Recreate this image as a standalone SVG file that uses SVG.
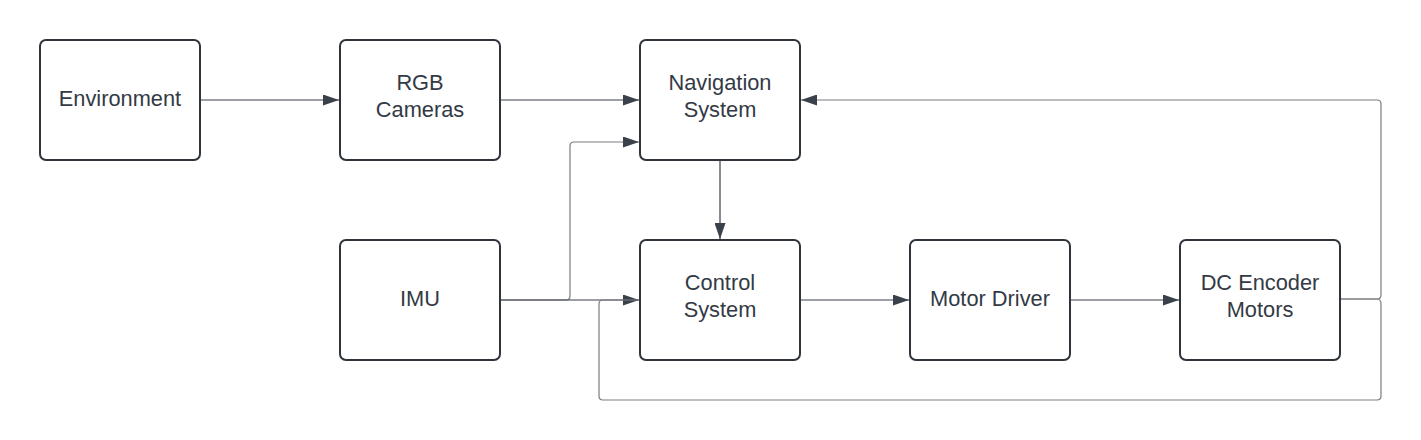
<svg xmlns="http://www.w3.org/2000/svg" width="1421" height="440" viewBox="0 0 1421 440">
<defs>
<style>
.box{fill:#fff;stroke:#2f343b;stroke-width:2}
.t{font-family:"Liberation Sans",Arial,sans-serif;font-size:21.8px;fill:#333a45;text-anchor:middle}
.c{fill:none;stroke:#3a414a;stroke-width:1.2}
.g{fill:none;stroke:#7a7c80;stroke-width:1.2}
</style>
<marker id="a" viewBox="0 0 16 11" refX="16" refY="5.5" markerWidth="16" markerHeight="11" markerUnits="userSpaceOnUse" orient="auto">
<path d="M0,0 L16,5.5 L0,11 Z" fill="#3a414a"/>
</marker>
</defs>
<rect width="1421" height="440" fill="#fff"/>
<g id="connectors">
<path class="c" d="M200,100 H339" marker-end="url(#a)"/>
<path class="c" d="M500,100 H639" marker-end="url(#a)"/>
<path class="g" d="M500,300 H566 Q570,300 570,296 V146 Q570,142 574,142 H639" marker-end="url(#a)"/>
<path class="c" d="M500,300 H639" marker-end="url(#a)"/>
<path class="c" d="M720,160 V239" marker-end="url(#a)"/>
<path class="c" d="M800,300 H909" marker-end="url(#a)"/>
<path class="c" d="M1070,300 H1179" marker-end="url(#a)"/>
<path class="g" d="M1340,299 H1377 Q1381,299 1381,295 V104 Q1381,100 1377,100 H801" marker-end="url(#a)"/>
<path class="g" d="M1340,299 H1377 Q1381,299 1381,304 V396 Q1381,400 1377,400 H603 Q599,400 599,396 V304 Q599,300 603,300 H639"/>
</g>
<g id="environment"><rect class="box" x="40" y="40" width="160" height="120" rx="6"/><text class="t" x="120" y="106">Environment</text></g>
<g id="rgb"><rect class="box" x="340" y="40" width="160" height="120" rx="6"/><text class="t" x="420" y="90">RGB</text><text class="t" x="420" y="117">Cameras</text></g>
<g id="nav"><rect class="box" x="640" y="40" width="160" height="120" rx="6"/><text class="t" x="720" y="90">Navigation</text><text class="t" x="720" y="117">System</text></g>
<g id="imu"><rect class="box" x="340" y="240" width="160" height="120" rx="6"/><text class="t" x="420" y="306">IMU</text></g>
<g id="control"><rect class="box" x="640" y="240" width="160" height="120" rx="6"/><text class="t" x="720" y="290">Control</text><text class="t" x="720" y="317">System</text></g>
<g id="motordriver"><rect class="box" x="910" y="240" width="160" height="120" rx="6"/><text class="t" x="990" y="306">Motor Driver</text></g>
<g id="dcmotors"><rect class="box" x="1180" y="240" width="160" height="120" rx="6"/><text class="t" x="1260" y="290">DC Encoder</text><text class="t" x="1260" y="317">Motors</text></g>
</svg>
